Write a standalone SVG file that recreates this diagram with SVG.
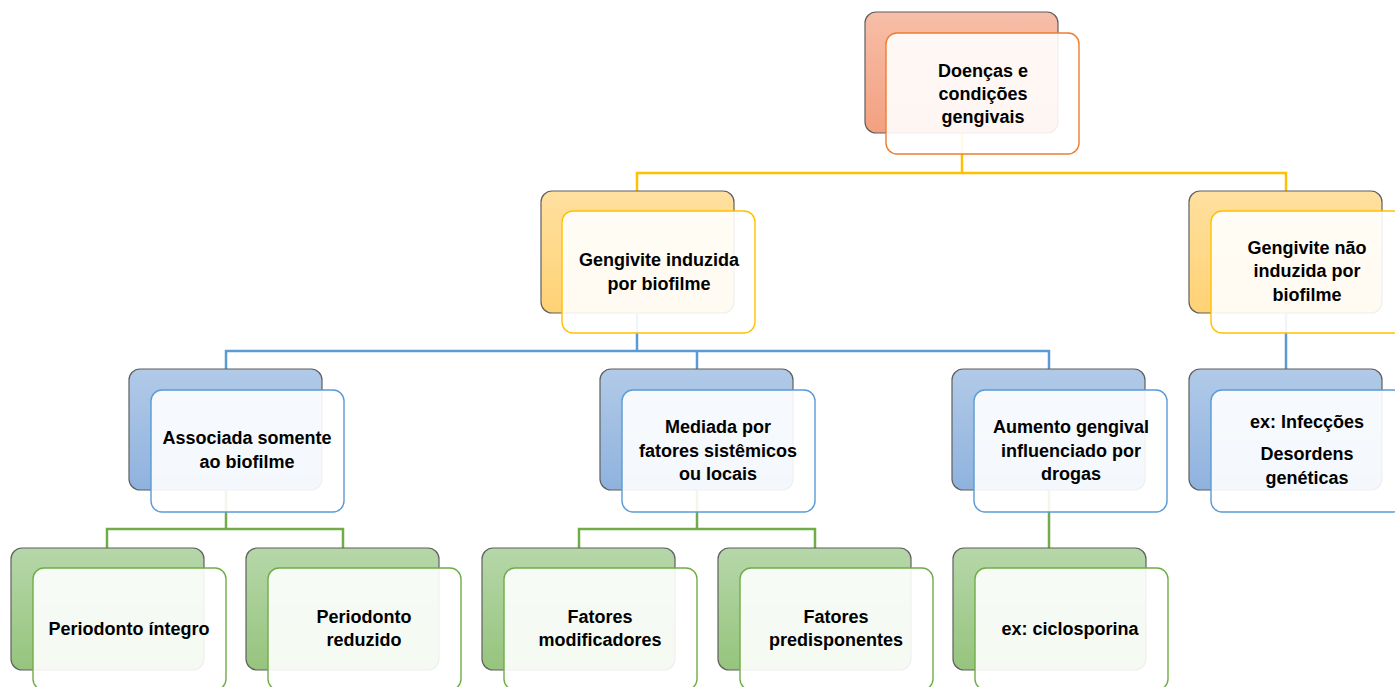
<svg xmlns="http://www.w3.org/2000/svg" width="1395" height="687" viewBox="0 0 1395 687">
<defs>
<linearGradient id="gO" x1="0" y1="0" x2="0" y2="1"><stop offset="0" stop-color="#F7BEA8"/><stop offset="1" stop-color="#F3A080"/></linearGradient>
<linearGradient id="gY" x1="0" y1="0" x2="0" y2="1"><stop offset="0" stop-color="#FFE0A0"/><stop offset="1" stop-color="#FFD274"/></linearGradient>
<linearGradient id="gB" x1="0" y1="0" x2="0" y2="1"><stop offset="0" stop-color="#B1CAE8"/><stop offset="1" stop-color="#8FB2DE"/></linearGradient>
<linearGradient id="gG" x1="0" y1="0" x2="0" y2="1"><stop offset="0" stop-color="#B6D7A9"/><stop offset="1" stop-color="#96C47D"/></linearGradient>
</defs>
<style>
.back{stroke:#5f5f5f;stroke-width:1.2}
.front{fill:#ffffff;fill-opacity:0.9;stroke-width:1.4}
.o .back{fill:url(#gO)} .o .front{stroke:#ED7D31}
.y .back{fill:url(#gY)} .y .front{stroke:#FFC000}
.b .back{fill:url(#gB)} .b .front{stroke:#5B9BD5}
.g .back{fill:url(#gG)} .g .front{stroke:#70AD47}
text{font-family:"Liberation Sans",Arial,sans-serif;font-weight:bold;font-size:18px;fill:#000;text-anchor:middle}
.c{fill:none;stroke-width:2.5}
.cy{stroke:#FFC000}.cb{stroke:#5B9BD5}.cg{stroke:#70AD47}
</style>
<rect x="0" y="0" width="1395" height="687" fill="#ffffff"/>
<g id="connectors">
<path class="c cy" d="M962,132 V173 M637,191 V173 H1286 V191"/>
<path class="c cb" d="M637,313 V351 M226,369 V351 H1049 V369 M697,351 V369 M1286,313 V369"/>
<path class="c cg" d="M226,490 V529 M107,548 V529 H343 V548 M697,490 V529 M579,548 V529 H815 V548 M1049,490 V548"/>
</g>
<g id="n-top" class="o">
<rect class="back" x="865" y="12" width="193" height="121" rx="11"/>
<rect class="front" x="886" y="33" width="193" height="121" rx="11"/>
<text x="983" y="77">Doenças e</text><text x="983" y="100">condições</text><text x="983" y="123">gengivais</text>
</g>
<g id="n-induzida" class="y">
<rect class="back" x="541" y="191" width="193" height="122" rx="11"/>
<rect class="front" x="562" y="211" width="193" height="122" rx="11"/>
<text x="659" y="266">Gengivite induzida</text><text x="659" y="290">por biofilme</text>
</g>
<g id="n-naoinduzida" class="y">
<rect class="back" x="1189" y="191" width="193" height="122" rx="11"/>
<rect class="front" x="1211" y="211" width="193" height="122" rx="11"/>
<text x="1307" y="254">Gengivite não</text><text x="1307" y="277">induzida por</text><text x="1307" y="301">biofilme</text>
</g>
<g id="n-associada" class="b">
<rect class="back" x="129" y="369" width="193" height="121" rx="11"/>
<rect class="front" x="151" y="390" width="193" height="122" rx="11"/>
<text x="247" y="444">Associada somente</text><text x="247" y="468">ao biofilme</text>
</g>
<g id="n-mediada" class="b">
<rect class="back" x="600" y="369" width="193" height="121" rx="11"/>
<rect class="front" x="622" y="390" width="193" height="122" rx="11"/>
<text x="718" y="433">Mediada por</text><text x="718" y="457">fatores sistêmicos</text><text x="718" y="480">ou locais</text>
</g>
<g id="n-aumento" class="b">
<rect class="back" x="952" y="369" width="193" height="121" rx="11"/>
<rect class="front" x="974" y="390" width="193" height="122" rx="11"/>
<text x="1071" y="433">Aumento gengival</text><text x="1071" y="457">influenciado por</text><text x="1071" y="480">drogas</text>
</g>
<g id="n-infeccoes" class="b">
<rect class="back" x="1189" y="369" width="193" height="121" rx="11"/>
<rect class="front" x="1211" y="390" width="193" height="122" rx="11"/>
<text x="1307" y="428">ex: Infecções</text><text x="1307" y="460">Desordens</text><text x="1307" y="484">genéticas</text>
</g>
<g id="n-integro" class="g">
<rect class="back" x="11" y="548" width="193" height="122" rx="11"/>
<rect class="front" x="33" y="568" width="193" height="122" rx="11"/>
<text x="129" y="635">Periodonto íntegro</text>
</g>
<g id="n-reduzido" class="g">
<rect class="back" x="246" y="548" width="193" height="122" rx="11"/>
<rect class="front" x="268" y="568" width="193" height="122" rx="11"/>
<text x="364" y="623">Periodonto</text><text x="364" y="646">reduzido</text>
</g>
<g id="n-modificadores" class="g">
<rect class="back" x="482" y="548" width="193" height="122" rx="11"/>
<rect class="front" x="504" y="568" width="193" height="122" rx="11"/>
<text x="600" y="623">Fatores</text><text x="600" y="646">modificadores</text>
</g>
<g id="n-predisponentes" class="g">
<rect class="back" x="718" y="548" width="193" height="122" rx="11"/>
<rect class="front" x="740" y="568" width="193" height="122" rx="11"/>
<text x="836" y="623">Fatores</text><text x="836" y="646">predisponentes</text>
</g>
<g id="n-ciclosporina" class="g">
<rect class="back" x="953" y="548" width="193" height="122" rx="11"/>
<rect class="front" x="975" y="568" width="193" height="122" rx="11"/>
<text x="1070" y="635">ex: ciclosporina</text>
</g>
</svg>
